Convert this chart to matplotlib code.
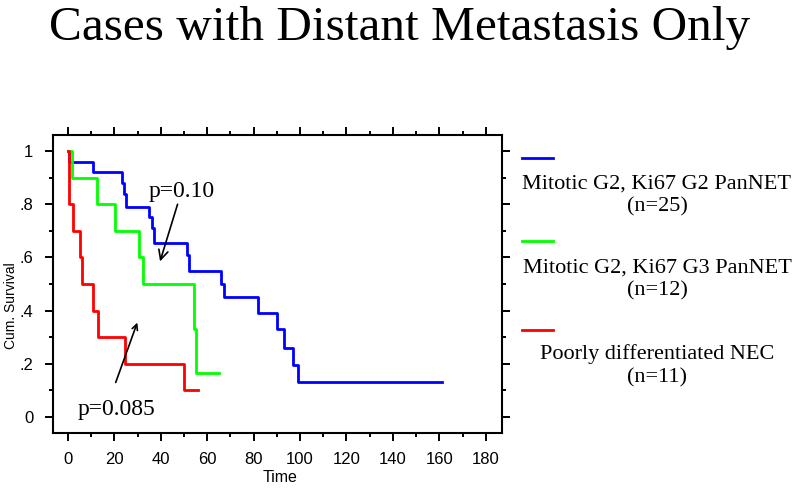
import matplotlib
matplotlib.use('Agg')
import matplotlib.pyplot as plt
from matplotlib.lines import Line2D
import matplotlib.ticker as tkr

# Kaplan-Meier steps
blue_t = [0, 0.5, 10.8, 23.1, 24.3, 25.0, 35.0, 36.2, 37.2, 51.2, 52.2, 66.0, 67.2, 81.8, 90.2, 93.1, 97.1, 99.3, 161.3]
blue_s = [1.0, 0.96, 0.92, 0.88, 0.84, 0.79, 0.75, 0.71, 0.655, 0.61, 0.55, 0.50, 0.45, 0.39, 0.33, 0.26, 0.196, 0.131, 0.131]

green_t = [0, 1.9, 12.4, 20.3, 30.6, 32.5, 54.5, 55.2, 65.0]
green_s = [1.0, 0.90, 0.80, 0.70, 0.60, 0.50, 0.33, 0.167, 0.167]

red_t = [0, 0.6, 2.3, 5.2, 6.2, 10.9, 12.8, 24.6, 50.0, 55.9]
red_s = [1.0, 0.80, 0.70, 0.60, 0.50, 0.40, 0.30, 0.20, 0.10, 0.10]

labels = ['Mitotic G2, Ki67 G2 PanNET\n(n=25)',
          'Mitotic G2, Ki67 G3 PanNET\n(n=12)',
          'Poorly differentiated NEC\n(n=11)']
colors = ['#0000ff', '#00ff00', '#ff0000']


def yfmt(y, pos):
    if abs(y) < 1e-9:
        return '0'
    if abs(y - 1) < 1e-9:
        return '1'
    return ('%.1f' % y).lstrip('0')


fig = plt.figure(figsize=(8, 4.9), dpi=100)
ax = fig.add_axes([0.066, 0.1163, 0.5615, 0.6082])

ax.plot(blue_t, blue_s, drawstyle='steps-post', color=colors[0], lw=2)
ax.plot(green_t, green_s, drawstyle='steps-post', color=colors[1], lw=2)
ax.plot(red_t, red_s, drawstyle='steps-post', color=colors[2], lw=2)

ax.set_xlim(-6.5, 187)
ax.set_ylim(-0.06, 1.06)
ax.set_xticks(range(0, 181, 20))
ax.set_xticks(range(10, 181, 20), minor=True)
ax.set_yticks([0, .2, .4, .6, .8, 1])
ax.set_yticks([.1, .3, .5, .7, .9], minor=True)
ax.yaxis.set_major_formatter(tkr.FuncFormatter(yfmt))
ax.tick_params(which='both', direction='out', top=True, right=True,
               width=1.4, labelsize=12, labelfontfamily='Liberation Sans')
ax.tick_params(which='major', length=6, pad=8)
ax.tick_params(which='minor', length=3)
for sp in ax.spines.values():
    sp.set_linewidth(1.5)

ax.set_xlabel('Time', fontsize=11.5, family='Liberation Sans')
ax.xaxis.set_label_coords((280 - 53) / 449, -(470 - 433) / 298)
ax.set_ylabel('Cum. Survival', fontsize=10, family='Liberation Sans')
ax.yaxis.set_label_coords(-(53 - 18) / 449, (433 - 306) / 298)

# p-values
ax.annotate('p=0.10', xy=(39.7, 0.585), xytext=(49, 0.81),
            fontsize=17, family='Liberation Serif', ha='center', va='bottom',
            arrowprops=dict(arrowstyle='->', lw=1.2, color='black', shrinkA=0, shrinkB=0))
ax.annotate('', xy=(29.9, 0.355), xytext=(20.6, 0.13),
            arrowprops=dict(arrowstyle='->', lw=1.2, color='black', shrinkA=0, shrinkB=0))
ax.text(21, 0.03, 'p=0.085', fontsize=17, family='Liberation Serif', ha='center', va='center')

# legend on the right
ly = [158, 241, 330]
ty = [195.4, 279.5, 365.5]
for c, lab, y, t in zip(colors, labels, ly, ty):
    fig.add_artist(Line2D([522 / 800, 553 / 800], [1 - y / 490, 1 - y / 490], color=c, lw=2))
    fig.text(657 / 800, 1 - t / 490, lab, ha='center', va='center',
             fontsize=16, family='Liberation Serif', linespacing=1.3)

fig.text(0.5, 1 - 28 / 490, 'Cases with Distant Metastasis Only', ha='center', va='center',
         fontsize=35.5, family='Liberation Serif')

fig.savefig('out.png', dpi=100)
